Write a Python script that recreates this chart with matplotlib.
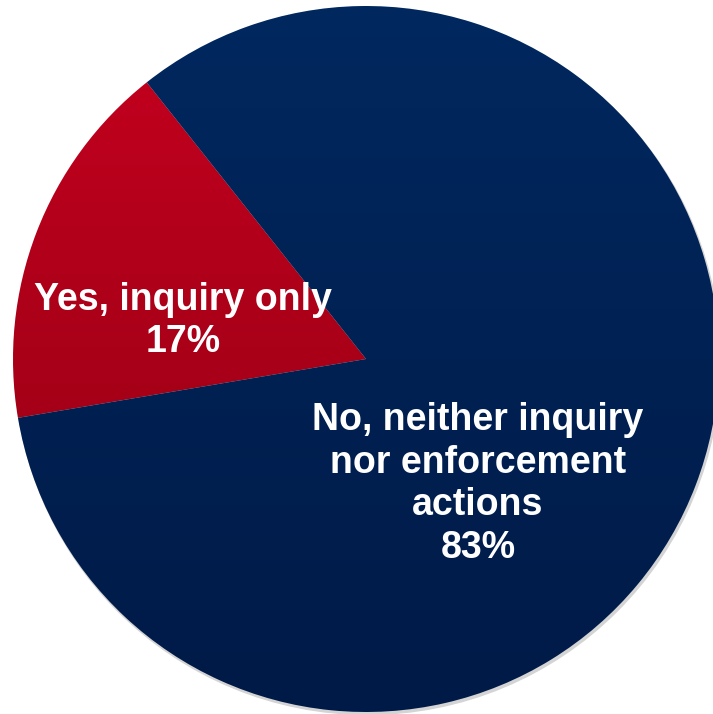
import numpy as np
import matplotlib.pyplot as plt
from matplotlib.colors import LinearSegmentedColormap

labels = ["Yes, inquiry only", "No, neither inquiry\nnor enforcement\nactions"]
shares = [17, 83]
top_colors = ["#c6001f", "#00285f"]
bottom_colors = ["#8c0012", "#001a47"]

W, H = 713, 714
cx, cy, r = 366, 714 - 359, 353

fig = plt.figure(figsize=(W / 100, H / 100), dpi=100)
ax = fig.add_axes([0, 0, 1, 1])

# faint shadow
shadow = plt.Circle((cx + 1.5, cy - 2.5), r, color="#d4d4d4", zorder=0)
ax.add_patch(shadow)

wedges, _ = ax.pie(shares, startangle=128.4, counterclock=True,
                   center=(cx, cy), radius=r, frame=True,
                   wedgeprops=dict(linewidth=0))
ax.set_xlim(0, W)
ax.set_ylim(0, H)
ax.set_aspect("equal")
ax.axis("off")

grad = np.linspace(0, 1, 256).reshape(-1, 1)
for w, c1, c2 in zip(wedges, top_colors, bottom_colors):
    w.set_facecolor("none")
    cmap = LinearSegmentedColormap.from_list("g", [c1, c2])
    im = ax.imshow(grad, cmap=cmap, aspect="auto",
                   extent=[cx - r, cx + r, cy - r, cy + r],
                   origin="upper", zorder=1)
    im.set_clip_path(w)

font = dict(family=["Liberation Sans", "DejaVu Sans"], weight="bold",
            color="white", fontsize=27, ha="center", va="center",
            linespacing=1.24, zorder=3)
ax.text(183, 714 - 321, f"{labels[0]}\n{shares[0]}%", **font)
ax.text(478, 714 - 484, f"{labels[1]}\n{shares[1]}%", **font)

fig.savefig("out.png", dpi=100)
